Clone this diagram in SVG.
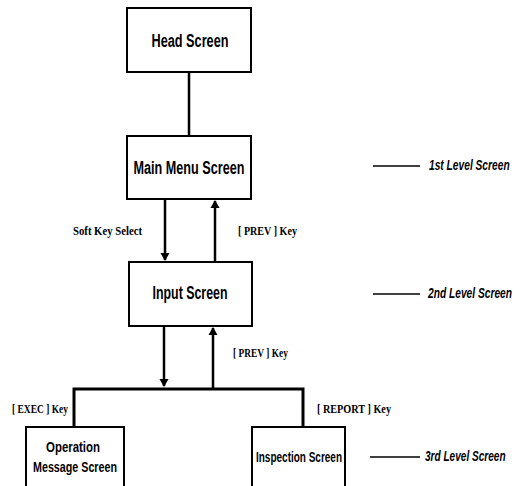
<svg xmlns="http://www.w3.org/2000/svg" width="529" height="486" viewBox="0 0 529 486">
<defs>
<marker id="ah" markerWidth="8" markerHeight="12" refX="7" refY="6" orient="auto" markerUnits="userSpaceOnUse">
<path d="M0,1.5 L8,6 L0,10.5 Z" fill="#000"/>
</marker>
<style>
.box{fill:#fff;stroke:#000;stroke-width:2}
.bl{font-family:"Liberation Sans",Arial,sans-serif;font-weight:bold;fill:#000;text-anchor:middle}
.sl{font-family:"Liberation Serif","Times New Roman",serif;font-weight:bold;font-size:11.5px;fill:#000}
.lv{font-family:"Liberation Sans",Arial,sans-serif;font-weight:bold;font-style:italic;font-size:14px;fill:#000}
.c{stroke:#000;stroke-width:2.5;fill:none}
.lvl{stroke:#000;stroke-width:1.5}
</style>
</defs>
<rect width="529" height="486" fill="#fff"/>
<g id="connectors">
<line class="c" x1="189" y1="72" x2="189" y2="136"/>
<line class="c" x1="165" y1="199" x2="165" y2="260" marker-end="url(#ah)"/>
<line class="c" x1="215" y1="262" x2="215" y2="201" marker-end="url(#ah)"/>
<line class="c" x1="164" y1="326" x2="164" y2="386" marker-end="url(#ah)"/>
<line class="c" x1="213" y1="389" x2="213" y2="328" marker-end="url(#ah)"/>
<path d="M74,427 V389 H303 V427" stroke="#000" stroke-width="3" fill="none"/>
<text class="sl" x="73" y="235" textLength="69" lengthAdjust="spacingAndGlyphs">Soft Key Select</text>
<text class="sl" x="238" y="235" textLength="59" lengthAdjust="spacingAndGlyphs">[ PREV ] Key</text>
<text class="sl" x="233" y="357" textLength="55" lengthAdjust="spacingAndGlyphs">[ PREV ] Key</text>
<text class="sl" x="12" y="413" textLength="56" lengthAdjust="spacingAndGlyphs">[ EXEC ] Key</text>
<text class="sl" x="317" y="413" textLength="74" lengthAdjust="spacingAndGlyphs">[ REPORT ] Key</text>
</g>
<g id="head">
<rect class="box" x="127" y="8" width="124" height="64"/>
<text class="bl" x="190" y="47" font-size="18" textLength="77" lengthAdjust="spacingAndGlyphs">Head Screen</text>
</g>
<g id="mainmenu">
<rect class="box" x="127" y="136" width="124" height="63"/>
<text class="bl" x="189" y="174" font-size="18" textLength="111" lengthAdjust="spacingAndGlyphs">Main Menu Screen</text>
</g>
<g id="input">
<rect class="box" x="129" y="262" width="123" height="64"/>
<text class="bl" x="190" y="299" font-size="18" textLength="75" lengthAdjust="spacingAndGlyphs">Input Screen</text>
</g>
<g id="operation">
<rect class="box" x="26" y="427" width="98" height="70"/>
<text class="bl" x="73" y="452" font-size="14" textLength="54" lengthAdjust="spacingAndGlyphs">Operation</text>
<text class="bl" x="75" y="472" font-size="14" textLength="84" lengthAdjust="spacingAndGlyphs">Message Screen</text>
</g>
<g id="inspection">
<rect class="box" x="252" y="427" width="93" height="70"/>
<text class="bl" x="299" y="462" font-size="14" textLength="86" lengthAdjust="spacingAndGlyphs">Inspection Screen</text>
</g>
<g id="levels">
<line class="lvl" x1="373" y1="166" x2="420" y2="166"/>
<text class="lv" transform="translate(429,170) scale(0.73,1)">1st Level Screen</text>
<line class="lvl" x1="373" y1="294" x2="420" y2="294"/>
<text class="lv" transform="translate(428,298) scale(0.73,1)">2nd Level Screen</text>
<line class="lvl" x1="370" y1="457" x2="420" y2="457"/>
<text class="lv" transform="translate(425,461) scale(0.72,1)">3rd Level Screen</text>
</g>
</svg>
